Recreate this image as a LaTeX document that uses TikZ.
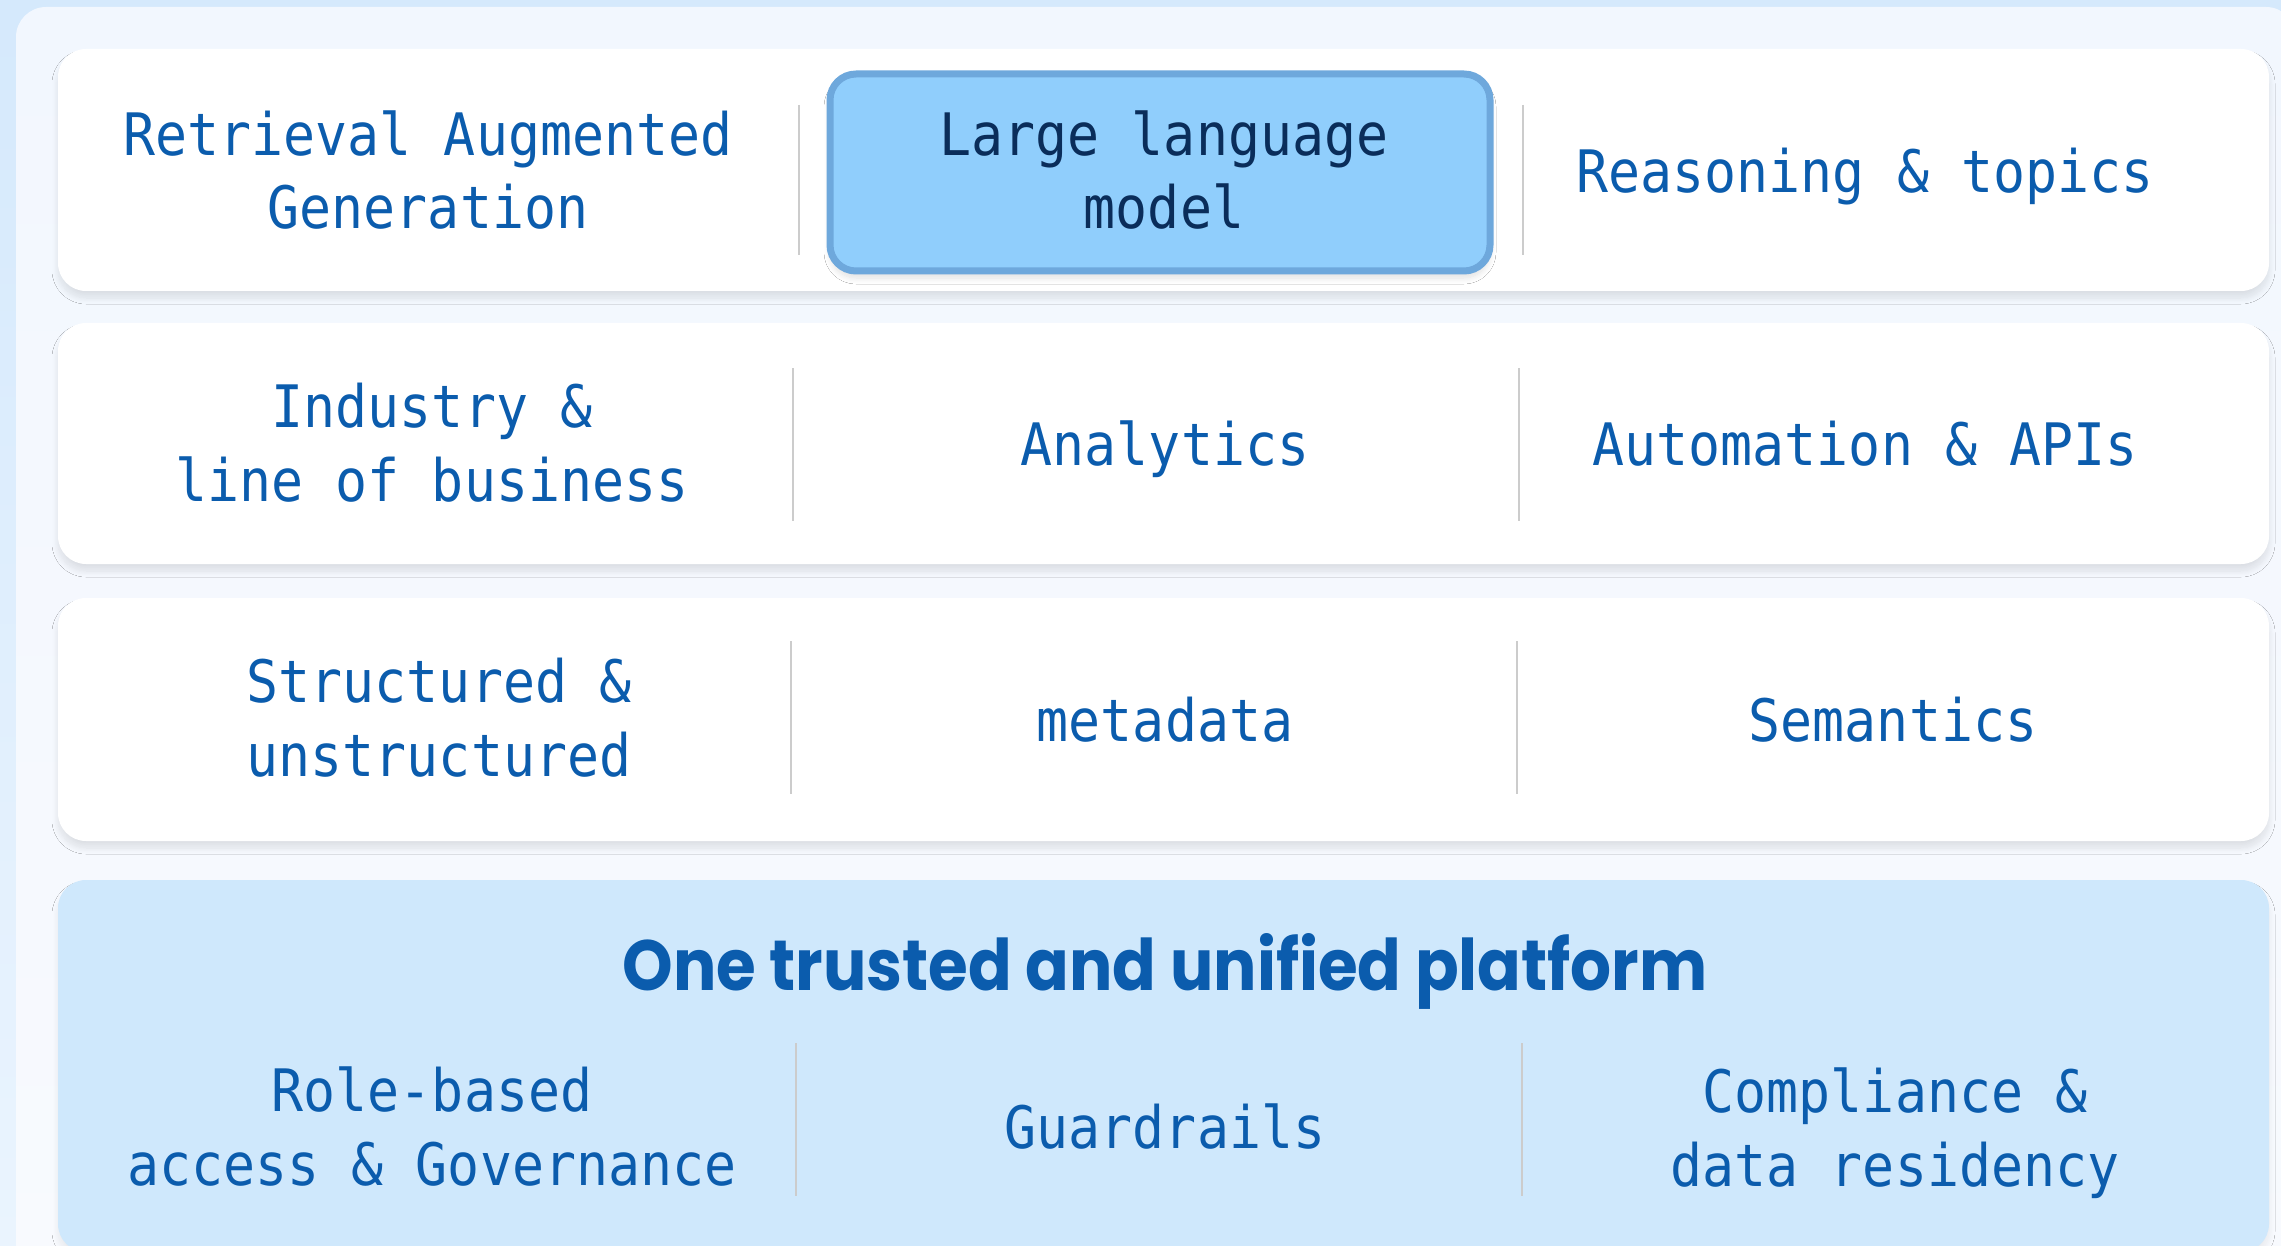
\documentclass[tikz,border=0pt]{standalone}
\usepackage{fontspec}
\usepackage{graphicx}
\usetikzlibrary{shadows.blur}
\newfontfamily\monofnt{DejaVu Sans Mono}
\newfontfamily\titlefnt{Poppins}
\definecolor{outertop}{HTML}{D5E9FC}
\definecolor{outerbot}{HTML}{EAF4FE}
\definecolor{paneltop}{HTML}{F2F7FE}
\definecolor{panelbot}{HTML}{F8FAFE}
\definecolor{textblue}{HTML}{0B5CAD}
\definecolor{llmfill}{HTML}{90CEFC}
\definecolor{llmedge}{HTML}{6EA8DC}
\definecolor{llmtext}{HTML}{0A2D5A}
\definecolor{basefill}{HTML}{CFE8FC}
\definecolor{divcol}{HTML}{CCCCCC}
\newcommand{\ml}[1]{\scalebox{1}[1.1]{\begin{tabular}[b]{@{}c@{}}#1\end{tabular}}}
\tikzset{
  softshadow/.style={blur shadow={shadow xshift=0pt, shadow yshift=-3.5pt,
    shadow blur radius=3pt, shadow blur steps=10, shadow opacity=#1}},
  card/.style={fill=white, rounded corners=14pt, softshadow=10},
  basecard/.style={fill=basefill, rounded corners=14pt, softshadow=7},
  llmbox/.style={fill=llmfill, draw=llmedge, line width=3.5pt, rounded corners=13pt, softshadow=12},
  divider/.style={draw=divcol, line width=1pt},
  lbl/.style={font=\monofnt\fontsize{26.6}{33.6}\selectfont, text=textblue, inner sep=0pt, anchor=base},
  llmlbl/.style={lbl, text=llmtext},
  ttl/.style={text=textblue, inner sep=0pt, anchor=base}
}
\begin{document}
\begin{tikzpicture}[x=0.5pt,y=-0.5pt]
\useasboundingbox (0,0) rectangle (2281,1246);
\clip (0,0) rectangle (2281,1246);
% backgrounds
\shade[top color=outertop, bottom color=outerbot] (0,0) rectangle (2281,1246);
\shade[top color=paneltop, bottom color=panelbot, rounded corners=15pt] (16,7) rectangle (2296,1300);
% cards
\path[card] (58,49) rectangle (2269,291);
\path[card] (58,323) rectangle (2269,564);
\path[card] (58,598) rectangle (2269,841);
\path[basecard] (58,880) rectangle (2269,1252);
% LLM highlight
\path[llmbox] (830,74) rectangle (1490,271);
% dividers
\draw[divider] (799,105) -- (799,255);
\draw[divider] (1523,105) -- (1523,255);
\draw[divider] (793,368) -- (793,521);
\draw[divider] (1519,368) -- (1519,521);
\draw[divider] (791,641) -- (791,794);
\draw[divider] (1517,641) -- (1517,794);
\draw[divider] (796,1043) -- (796,1196);
\draw[divider] (1522,1043) -- (1522,1196);
% row 1
\node[lbl] (rag) at (428,229) {\ml{Retrieval Augmented\\Generation}};
\node[llmlbl] (llm) at (1164,229) {\ml{Large language\\model}};
\node[lbl] (reason) at (1865,193) {\ml{Reasoning \& topics}};
% row 2
\node[lbl] (industry) at (432,501) {\ml{Industry \&\\line of business}};
\node[lbl] (analytics) at (1165,465) {\ml{Analytics}};
\node[lbl] (auto) at (1865,465) {\ml{Automation \& APIs}};
% row 3
\node[lbl] (struct) at (439,776) {\ml{Structured \&\\unstructured}};
\node[lbl] (meta) at (1165,741) {\ml{metadata}};
\node[lbl] (sem) at (1893,741) {\ml{Semantics}};
% platform
\node[ttl] (title) at (1165,990) {\resizebox{542.5pt}{28.5pt}{\titlefnt\bfseries One trusted and unified platform}};
\node[lbl] (role) at (432,1185) {\ml{Role-based\\access \& Governance}};
\node[lbl] (guard) at (1165,1148) {\ml{Guardrails}};
\node[lbl] (comp) at (1895,1186) {\ml{Compliance \&\\data residency}};
\end{tikzpicture}
\end{document}
